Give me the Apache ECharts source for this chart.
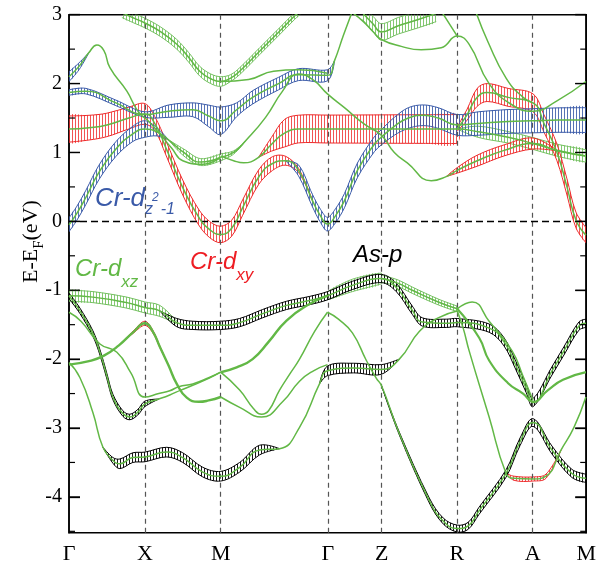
<!DOCTYPE html>
<html>
<head>
<meta charset="utf-8">
<script src="https://cdn.jsdelivr.net/npm/echarts@6.0.0/dist/echarts.min.js"></script>
<style>html,body{margin:0;padding:0;background:#fff;}#chart{width:599px;height:571px;}</style>
</head>
<body>
<div id="chart"></div>
<script>
// ---------- axes ----------
const kLabels = ['Γ', 'X', 'M', 'Γ', 'Z', 'R', 'A', 'M'];
const kPositions = [0, 76, 152, 259.3, 313.3, 388.7, 464.7, 518.3];
const yMajorTicks = [-4, -3, -2, -1, 0, 1, 2, 3];
const yMinorTicks = [-4.5, -3.5, -2.5, -1.5, -0.5, 0.5, 1.5, 2.5];

// ---------- bands: [k, E(eV)] ----------
const bandC1 = [[0,-0.05],[8,0.12],[17,0.35],[30,0.71],[47,1.05],[64,1.27],[76,1.34],[88,1.3],[100,1.18],[115,1.0],[132,0.86],[152,0.93]];
const bandR1 = [[0,1.34],[20,1.36],[38,1.4],[60,1.5],[76,1.56],[86,1.42],[97,1.07],[114,0.49],[130,0.06],[141,-0.12],[152,-0.19],[163,-0.1],[174,0.2],[190,0.64],[204,0.84],[217,0.88],[230,0.74],[244,0.3],[252,0.08],[259,-0.04],[267,0.08],[276,0.3],[289,0.74],[306,1.12],[313,1.22],[326,1.38],[340,1.5],[355,1.54],[370,1.5],[389,1.4],[410,1.42],[440,1.45],[465,1.46],[490,1.47],[518,1.47]];
const bandG1 = [[0,1.87],[17,1.89],[47,1.72],[76,1.55],[100,1.6],[124,1.62],[140,1.53],[152,1.46],[168,1.62],[184,1.8],[210,2.0],[230,2.13],[259,2.12],[266,2.33],[275,2.7],[284,3.05]];
const bandG2 = [[152,0.93],[165,1.0],[177,1.17],[197,1.51],[214,1.89],[230,2.14],[245,2.05],[259,1.85],[276,1.65],[296,1.41],[313,1.25],[326,1.0],[339,0.85],[363,0.59],[378,0.65],[389,0.74],[409,0.88],[436,1.03],[465,1.13],[490,1.02],[518,0.95]];
const bandF = [[152,0.95],[165,0.88],[175,0.85],[190,0.93],[203,1.12],[216,1.28],[230,1.34],[259,1.34],[290,1.34],[320,1.34],[355,1.34],[389,1.34],[410,1.3],[440,1.22],[465,1.13],[490,1.03],[518,0.95]];
const bandR2 = [[389,1.34],[399,1.55],[409,1.8],[419,1.87],[440,1.8],[465,1.72],[476,1.42],[489,1.0],[499,0.5],[508,0.02],[518,-0.2]];
const bandT1 = [[53,3.03],[65,2.95],[76,2.88],[92,2.75],[108,2.57],[120,2.38],[131,2.18],[142,2.07],[152,2.03],[162,2.08],[171,2.18],[191,2.47],[211,2.76],[226,2.98],[232,3.06]];
const bandT2 = [[152,2.03],[180,2.06],[205,2.18],[230,2.2],[259,2.15]];
const bandT3 = [[0,2.1],[10,2.25],[20,2.45],[28,2.56],[35,2.48],[41,2.23],[58,1.89],[69,1.6],[80,1.45],[91,1.27],[103,1.06],[114,0.88],[134,0.83],[152,0.93]];
const bandU1 = [[284,3.03],[295,2.9],[305,2.75],[313,2.64],[333,2.54],[353,2.49],[373,2.52],[389,2.69],[401,2.57],[421,2.0],[443,1.7],[465,1.6],[489,1.75],[518,2.03]];
const bandU2 = [[294,3.03],[305,2.86],[313,2.75],[330,2.84],[350,2.93],[368,3.02]];
const bandU3 = [[374,3.03],[382,2.85],[389,2.69]];
const bandS2 = [[408,3.03],[420,2.6],[438,2.08],[455,1.8],[465,1.72]];
const bandV1 = [[0,-1.08],[24,-1.1],[58,-1.18],[76,-1.25],[91,-1.3],[108,-1.47],[124,-1.51],[152,-1.51],[171,-1.47],[194,-1.34],[218,-1.22],[241,-1.15],[259,-1.08],[284,-0.93],[313,-0.83],[328,-0.96],[344,-1.29],[354,-1.46],[378,-1.48],[389,-1.47],[421,-1.55],[436,-1.75],[448,-2.1],[458,-2.42],[465,-2.63],[484,-2.17],[496,-1.88],[511,-1.52],[518,-1.48]];
const bandVZ = [[313,-0.83],[330,-0.9],[344,-1.0],[370,-1.17],[389,-1.27]];
const bandV2 = [[0,-2.08],[20,-2.03],[35,-1.95],[50,-1.8],[65,-1.6],[76,-1.48],[84,-1.6],[91,-1.82],[100,-2.1],[108,-2.36],[118,-2.56],[130,-2.62],[140,-2.6],[152,-2.55]];
const bandV3 = [[0,-1.08],[11,-1.3],[24,-1.63],[31,-1.9],[38,-2.25],[44,-2.55],[54,-2.79],[61,-2.84],[69,-2.77],[76,-2.65],[90,-2.58],[101,-2.52],[112,-2.45],[124,-2.38],[140,-2.28],[152,-2.19]];
const bandV5 = [[0,-1.32],[12,-1.45],[31,-1.78],[48,-1.9],[62,-2.2],[76,-2.55],[90,-2.5],[101,-2.46],[110,-2.4],[124,-2.36],[140,-2.27],[152,-2.19]];
const bandV4 = [[0,-2.05],[11,-2.27],[24,-2.78],[34,-3.28],[44,-3.47],[51,-3.52],[64,-3.43],[76,-3.42],[98,-3.35],[114,-3.43],[134,-3.64],[152,-3.7],[171,-3.57],[191,-3.32],[211,-3.3],[231,-2.99],[251,-2.36],[259,-2.17],[285,-2.13],[313,-2.15],[331,-2.0],[351,-1.6],[370,-1.4],[389,-1.3]];
const bandW1 = [[152,-2.19],[171,-2.45],[185,-2.72],[193,-2.8],[200,-2.75],[211,-2.45],[222,-2.2],[231,-2.0],[246,-1.6],[259,-1.32]];
const bandW2 = [[152,-2.55],[171,-2.7],[193,-2.84],[214,-2.62],[231,-2.32],[245,-2.17],[259,-2.08]];
const bandW3 = [[152,-2.19],[168,-2.12],[184,-2.0],[200,-1.75],[218,-1.44],[241,-1.2],[259,-1.08]];
const bandP = [[259,-1.32],[270,-1.42],[284,-1.62],[298,-2.02],[308,-2.28],[313,-2.38],[331,-3.08],[361,-4.05],[375,-4.35],[389,-4.46],[400,-4.42],[411,-4.2],[438,-3.66],[452,-3.2],[465,-2.92],[484,-3.32],[504,-3.66],[518,-3.73]];
const bandLa = [[389,-1.3],[395,-1.55],[401,-1.88],[421,-2.84],[438,-3.66],[446,-3.73],[465,-3.74],[478,-3.7],[493,-3.32],[506,-2.99],[518,-2.55]];
const bandLb = [[389,-1.27],[411,-1.69],[421,-2.02],[440,-2.35],[455,-2.5],[465,-2.62],[480,-2.45],[495,-2.3],[518,-2.19]];
const bandLc = [[389,-1.27],[404,-1.17],[421,-1.45],[444,-1.88],[455,-2.25],[465,-2.6]];

// ---------- orbital weights (fat bands): [band, [[k, half-width eV], ...]] ----------
const fatGreen = [
  ['T1', [[53,0.07],[152,0.07],[162,0.05],[232,0.05]]],
  ['F',  [[389,0.0],[400,0.08],[518,0.09]]],
  ['V1', [[0,0.08],[91,0.08],[108,0.02]]],
  ['V1', [[259,0.06],[284,0.09],[313,0.08]]],
  ['VZ', [[313,0.05],[389,0.04]]],
  ['U2', [[294,0.1],[313,0.12],[368,0.12]]],
  ['C1', [[100,0],[115,0.05],[152,0.05]]],
  ['G2', [[152,0.05],[177,0]]]
];
const fatRed = [
  ['R1', [[0,0.19],[38,0.17],[76,0.15],[86,0.1],[152,0.12],[204,0.1],[230,0.03],[244,0]]],
  ['F',  [[190,0],[216,0.2],[389,0.21]]],
  ['G2', [[378,0],[389,0.04],[409,0.08],[465,0.08],[490,0]]],
  ['R2', [[389,0.03],[409,0.13],[465,0.13],[518,0.11]]],
  ['La', [[438,0],[446,0.03],[478,0.03],[493,0]]],
  ['V2', [[50,0],[76,0.03],[100,0]]]
];
const fatBlue = [
  ['C1', [[0,0.1],[64,0.11],[76,0.12],[88,0.06],[100,0]]],
  ['G1', [[0,0.04],[76,0.04],[100,0.09],[124,0.1],[152,0.2],[168,0.1],[259,0.08],[266,0]]],
  ['T3', [[0,0.07],[10,0.05],[20,0]]],
  ['R1', [[217,0],[230,0.08],[259,0.1],[313,0.11],[340,0.15],[389,0.15],[410,0.17],[518,0.18]]]
];
const fatBlack = [
  ['V1', [[91,0],[108,0.06],[518,0.06]]],
  ['V3', [[0,0.04],[76,0.04],[90,0]]],
  ['V4', [[34,0],[51,0.07],[191,0.07],[211,0]]],
  ['V4', [[251,0],[259,0.07],[313,0.07],[331,0]]],
  ['P',  [[313,0],[331,0.02],[389,0.05],[518,0.06]]]
];

const bandMap = {C1:bandC1,R1:bandR1,G1:bandG1,G2:bandG2,F:bandF,R2:bandR2,T1:bandT1,T2:bandT2,T3:bandT3,U1:bandU1,U2:bandU2,U3:bandU3,S2:bandS2,V1:bandV1,VZ:bandVZ,V2:bandV2,V3:bandV3,V5:bandV5,V4:bandV4,W1:bandW1,W2:bandW2,W3:bandW3,P:bandP,La:bandLa,Lb:bandLb,Lc:bandLc};
const thickBands = {V2:2.4, W3:2.4, Lb:2.2};

const lineGreen = '#62b846';
function hatch(color){
  const c = document.createElement('canvas'); c.width = 3; c.height = 4;
  const g = c.getContext('2d'); g.fillStyle = color; g.fillRect(0,0,1,4); return c;
}
const orbStyle = {
  green: {line:'#74c060', pattern: hatch('rgba(110,190,90,0.85)')},
  red:   {line:'#ee2a2a', pattern: hatch('rgba(238,42,42,0.8)')},
  blue:  {line:'#3a5aa8', pattern: hatch('rgba(58,90,168,0.85)')},
  black: {line:'#000000', pattern: hatch('rgba(0,0,0,0.9)')}
};
const fatList = [].concat(
  fatGreen.map(f=>f.concat(['green'])),
  fatRed.map(f=>f.concat(['red'])),
  fatBlue.map(f=>f.concat(['blue'])),
  fatBlack.map(f=>f.concat(['black']))
);

function widthAt(wl, k){
  for (let i = 0; i < wl.length - 1; i++) {
    const a = wl[i], b = wl[i+1];
    if (k >= a[0] && k <= b[0]) return b[0] === a[0] ? a[1] : a[1] + (b[1]-a[1])*(k-a[0])/(b[0]-a[0]);
  }
  return 0;
}

function renderFat(params, api){
  const f = fatList[params.dataIndex];
  const wl = f[1];
  const k0 = wl[0][0], k1 = wl[wl.length-1][0];
  const pts = bandMap[f[0]].filter(p => p[0] >= k0 && p[0] <= k1);
  if (pts.length < 2) return null;
  const up = pts.map(p => api.coord([p[0], p[1] + widthAt(wl, p[0])]));
  const lo = pts.map(p => api.coord([p[0], p[1] - widthAt(wl, p[0])]));
  const st = orbStyle[f[2]];
  const cs = params.coordSys;
  return {
    type:'group',
    clipPath:{type:'rect', shape:{x:cs.x, y:cs.y, width:cs.width, height:cs.height}},
    children:[
      {type:'polygon', shape:{points: up.concat(lo.slice().reverse()), smooth:0.35}, style:{fill:{image:st.pattern, repeat:'repeat'}, stroke:null}},
      {type:'polyline', shape:{points:up, smooth:0.35}, style:{stroke:st.line, lineWidth:1, fill:null}},
      {type:'polyline', shape:{points:lo, smooth:0.35}, style:{stroke:st.line, lineWidth:1, fill:null}}
    ]
  };
}

// ---------- text labels ----------
const measCtx = document.createElement('canvas').getContext('2d');
function tw(t, font){ measCtx.font = font; return measCtx.measureText(t).width; }
function seqText(x0, base, parts, color, family, italic){
  const els = []; let x = x0;
  parts.forEach(p => {
    const font = (italic?'italic ':'') + p.fs + 'px ' + family;
    els.push({type:'text', x: x, y: base + p.dy - 0.33*p.fs,
      style:{text:p.t, font:font, fill:color, verticalAlign:'middle', align:'left'}});
    x += tw(p.t, font) + (p.gap || 0);
  });
  return els;
}
const sans = '"Liberation Sans", Arial, sans-serif';
const serif = '"Liberation Serif", "Times New Roman", serif';
const labels = [].concat(
  seqText(95, 207, [{t:'Cr-d',fs:26,dy:0,gap:0},{t:'z',fs:16,dy:8,gap:-1},{t:'2',fs:12,dy:-5,gap:2},{t:'-1',fs:16,dy:8}], '#3a5aa8', sans, true),
  seqText(75, 277, [{t:'Cr-d',fs:24,dy:0},{t:'xz',fs:17,dy:11}], '#62b846', sans, true),
  seqText(190, 270, [{t:'Cr-d',fs:24,dy:0},{t:'xy',fs:17,dy:11}], '#ee1d23', sans, true),
  seqText(353, 263, [{t:'As-p',fs:24,dy:0}], '#000', sans, true)
);
const nameParts = [{t:'E-E',fs:22,dy:0},{t:'F',fs:15,dy:6},{t:'(eV)',fs:22,dy:0}];
labels.push({type:'group', x:38, y:283, rotation:Math.PI/2, children:seqText(0, 0, nameParts, '#000', serif, false)});

// ---------- series ----------
const kMax = kPositions[kPositions.length - 1];
const series = [];
series.push({type:'custom', coordinateSystem:'cartesian2d', renderItem:renderFat, silent:true, z:2,
  data: fatList.map(f => [f[1][0][0], 0])});
Object.keys(bandMap).forEach(name => {
  series.push({type:'line', name:name, data:bandMap[name], smooth:0.5, symbol:'none', silent:true, z:5,
    lineStyle:{color:lineGreen, width:thickBands[name] || 1.5}});
});
series.push({type:'line', data:[], silent:true, z:1, markLine:{silent:true, symbol:['none','none'], label:{show:false},
  data: kPositions.slice(1,7).map(v => ({xAxis:v, lineStyle:{color:'#555', width:1.2, type:[5,4]}}))
    .concat([{yAxis:0, lineStyle:{color:'#000', width:1.3, type:[7,4]}}])}});

const chart = echarts.init(document.getElementById('chart'), null, {renderer:'canvas'});
chart.setOption({
  animation:false,
  backgroundColor:'#fff',
  grid:{left:69, right:11.7, top:14.7, bottom:38.3, show:true, borderColor:'#000', borderWidth:1.5, backgroundColor:'transparent'},
  xAxis:{type:'value', min:0, max:kMax, axisLine:{show:false, onZero:false}, splitLine:{show:false}, axisTick:{show:false},
    axisLabel:{customValues:kPositions, showMinLabel:true, showMaxLabel:true, margin:11, fontFamily:serif, fontSize:22, color:'#000',
      formatter: v => { const i = kPositions.findIndex(p => Math.abs(p - v) < 0.05); return i >= 0 ? kLabels[i] : ''; }}},
  yAxis:[
    {type:'value', min:-4.52, max:3, position:'left', axisLine:{show:true, onZero:false, lineStyle:{color:'#000', width:1.5}}, splitLine:{show:false},
     axisTick:{show:true, inside:true, length:11, customValues:yMajorTicks, lineStyle:{color:'#000', width:1.3}},
     minorTick:{show:false},
     axisLabel:{customValues:yMajorTicks, margin:7, fontFamily:serif, fontSize:20, color:'#000'}},
    {type:'value', min:-4.52, max:3, position:'right', axisLine:{show:true, onZero:false, lineStyle:{color:'#000', width:1.5}}, splitLine:{show:false},
     axisTick:{show:true, inside:true, length:11, customValues:yMajorTicks, lineStyle:{color:'#000', width:1.3}},
     axisLabel:{show:false}}
  ],
  series: series,
  graphic: {elements: labels}
});

// minor ticks and a duplicate set of major ticks drawn with graphic lines through the axis scale
const gridRect = chart.getModel().getComponent('grid', 0).coordinateSystem.getRect();
const tickEls = [];
[[yMajorTicks, 11], [yMinorTicks, 6]].forEach(([vals, len]) => {
  vals.forEach(v => {
    const y = chart.convertToPixel({yAxisIndex:0}, v);
    tickEls.push({type:'rect', shape:{x:gridRect.x, y:y - 0.6, width:len, height:1.2}, style:{fill:'#000'}, z:100});
    tickEls.push({type:'rect', shape:{x:gridRect.x + gridRect.width - len, y:y - 0.6, width:len, height:1.2}, style:{fill:'#000'}, z:100});
  });
});
chart.setOption({graphic: {elements: labels.concat(tickEls)}}, {replaceMerge:['graphic']});
</script>
</body>
</html>
